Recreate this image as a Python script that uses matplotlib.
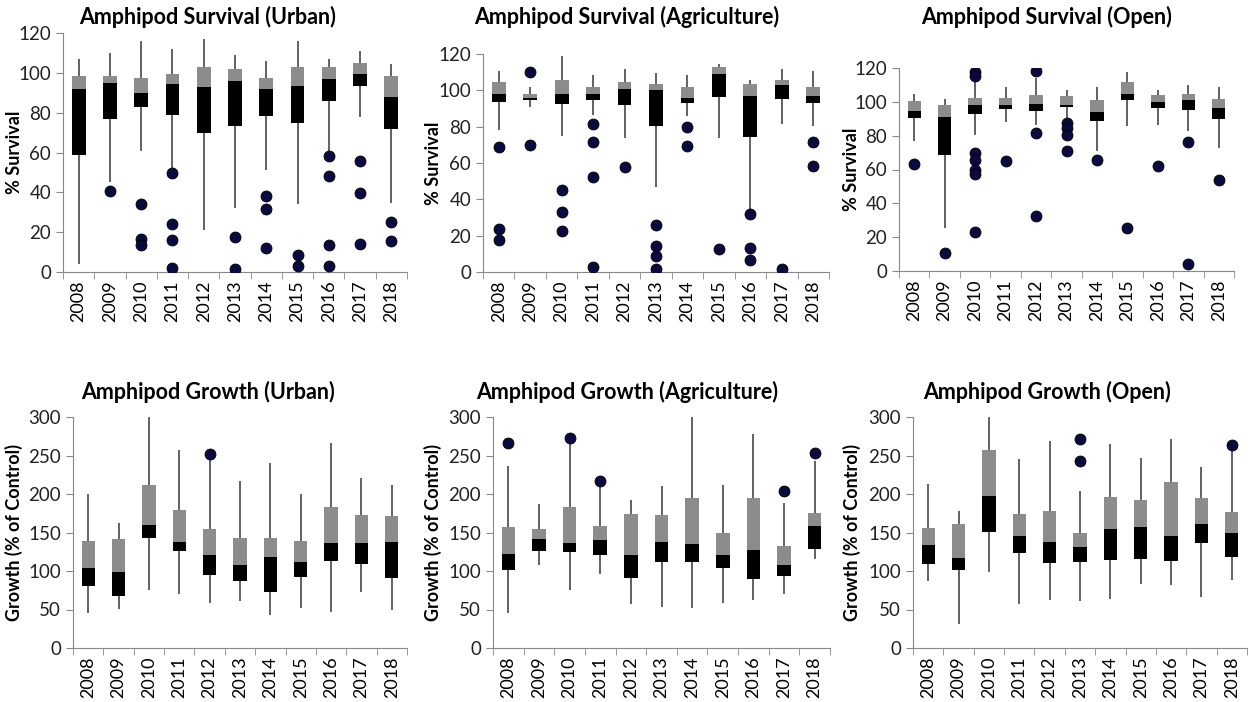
import matplotlib
matplotlib.use("Agg")
import matplotlib.pyplot as plt
import numpy as np

plt.rcParams['font.family'] = ['Lato', 'DejaVu Sans']

years = ['2008', '2009', '2010', '2011', '2012', '2013', '2014', '2015', '2016', '2017', '2018']

# each panel: whisker low, Q1, median, Q3, whisker high, outliers per year
surv_urban_lo = [4, 45, 61, 52, 21.3, 32, 51, 34, 60, 78, 34.4]
surv_urban_q1 = [58.6, 76.7, 82.6, 79, 70, 73.5, 78.5, 75, 86, 93.5, 72]
surv_urban_med = [92, 95, 90, 94.3, 93, 96, 92, 93.5, 97, 99.5, 87.8]
surv_urban_q3 = [98.5, 98.5, 97.5, 99.5, 103, 102, 97.3, 103, 103, 105, 98.5]
surv_urban_hi = [107, 110, 116, 112, 117, 109, 106, 116, 107, 111, 104.6]
surv_urban_out = [[], [40.8], [34, 16.8, 13.4], [49.7, 24, 16, 2], [], [17.5, 1.7],
                  [38, 31.4, 12], [8.4, 3], [58.4, 48.3, 13.8, 3], [55.5, 39.6, 14], [25, 15.4]]

surv_agri_lo = [78, 90.7, 75, 86.5, 74, 47, 85.6, 74, 31.7, 81.7, 80.6]
surv_agri_q1 = [93.5, 94.5, 92.4, 94.6, 91.8, 80.2, 93, 96.4, 74.5, 95.3, 93]
surv_agri_med = [98, 95.8, 98, 98, 100.7, 100, 95.7, 109, 96.8, 102.9, 96.8]
surv_agri_q3 = [104.7, 98, 105.8, 101.8, 104.7, 103.4, 101.8, 112.6, 103.4, 105.6, 101.8]
surv_agri_hi = [110.4, 101.8, 119, 108.6, 111.5, 109.5, 108.6, 114.7, 105.8, 111.5, 110.4]
surv_agri_out = [[68.7, 23.4, 17.5], [110.3, 70], [45.3, 32.8, 22.6], [81.7, 71.4, 52.3, 2.8],
                 [57.8], [25.8, 14.4, 8.7, 1.8], [80, 69.6], [12.9], [31.7, 13.4, 6.8],
                 [1.8], [71.4, 58.3]]

surv_open_lo = [76.8, 25.3, 80.5, 87.8, 86.4, 90.4, 71, 85.8, 86.4, 82.9, 72.6]
surv_open_q1 = [90.2, 68.5, 92.6, 95.7, 94.5, 97.1, 88.4, 100.8, 96.3, 95.3, 89.8]
surv_open_med = [94.5, 91, 98, 98, 98.7, 98.3, 94.1, 104.8, 100, 101.2, 96.1]
surv_open_q3 = [100.3, 98.3, 102, 102, 104.2, 103.2, 101.2, 111.7, 103.8, 104.4, 101.6]
surv_open_hi = [104.6, 101.6, 113, 108.7, 113.9, 107, 108.7, 117.4, 107.2, 109.9, 108.7]
surv_open_out = [[63], [10.9], [117.6, 115.5, 69.9, 65.7, 60, 57.6, 22.9], [65.3],
                 [118, 81.3, 32.8], [87.4, 84.5, 80.5, 71], [65.5], [25.3], [62.2],
                 [76.2, 3.9], [54]]

grow_urban_lo = [45.5, 50.6, 75, 69.7, 58.9, 60.6, 42.9, 52, 46.8, 72.3, 49.8]
grow_urban_q1 = [80, 68, 142.9, 125.5, 94.8, 87, 72.3, 92.2, 113.4, 108.7, 91]
grow_urban_med = [103.5, 98.3, 159.3, 138, 121.2, 107.4, 118.2, 111.3, 136.8, 136, 138]
grow_urban_q3 = [139.4, 142, 211.7, 179.2, 155, 143.3, 143.3, 139, 183, 172.3, 171]
grow_urban_hi = [200.4, 162, 300, 256.7, 245.5, 216.5, 240.7, 200.4, 266, 220.3, 212]
grow_urban_out = [[], [], [], [], [251.5], [], [], [], [], [], []]

grow_agri_lo = [45.5, 108.2, 75, 96.1, 57.6, 53.2, 52.4, 58.9, 61.9, 69.7, 116]
grow_agri_q1 = [101.7, 125.5, 124.2, 120.3, 91.3, 111.3, 112.1, 104.3, 89.6, 93.5, 129]
grow_agri_med = [122, 142, 136.8, 140.7, 120.3, 138, 134.6, 121.2, 127.7, 107.8, 158]
grow_agri_q3 = [156.7, 155, 183.5, 158.4, 174, 172.7, 195.2, 149.8, 195.2, 132.9, 175.3]
grow_agri_hi = [236.4, 187.4, 267.5, 211.3, 192.6, 210, 300, 212, 277.5, 188.7, 242.4]
grow_agri_out = [[266.7], [], [272.3], [216.5], [], [], [], [], [], [203.5], [253.7]]

grow_open_lo = [87, 30.7, 98.7, 57.6, 61.9, 60.6, 64.1, 83.5, 81.4, 65.8, 88.3]
grow_open_q1 = [109.5, 101.3, 150.2, 123, 110.8, 112.1, 114.7, 116, 113.4, 136, 118.6]
grow_open_med = [133.3, 116.9, 197, 145, 137.2, 131.6, 154.1, 157.1, 145, 160.6, 148.9]
grow_open_q3 = [156.3, 160.6, 256.7, 173.6, 177.5, 149.8, 196.1, 192.6, 216, 195.2, 176.2]
grow_open_hi = [213.4, 178, 300, 245.9, 268.4, 203.5, 264.5, 247.2, 271, 235, 256.7]
grow_open_out = [[], [], [], [], [], [271.9, 242.9], [], [], [], [], [263.2]]

fig = plt.figure(figsize=(12.49, 7.02), dpi=100)
W, H = 1249.0, 702.0


def axes_px(x0, x1, ytop, ybot):
    return fig.add_axes([x0 / W, 1 - ybot / H, (x1 - x0) / W, (ybot - ytop) / H])


def draw_panel(ax, lo, q1, med, q3, hi, out, ymax, ystep, ylabel, label_off):
    x = np.arange(len(years))
    ax.vlines(x, lo, hi, color='#555555', lw=1.3, zorder=1)
    ax.bar(x, np.array(med) - np.array(q1), bottom=q1, width=0.44, color='black', zorder=2)
    ax.bar(x, np.array(q3) - np.array(med), bottom=med, width=0.44, color='#8c8c8c', zorder=2)
    for i, pts in enumerate(out):
        if pts:
            ax.scatter([i] * len(pts), pts, s=62, color='#0a0a40', edgecolor='black',
                       lw=0.6, zorder=3)
    ax.set_xlim(-0.5, len(years) - 0.5)
    ax.set_ylim(0, ymax)
    ax.set_yticks(np.arange(0, ymax + 1, ystep))
    ax.set_xticks(x)
    ax.set_xticklabels(years, rotation=90, fontsize=13)
    ax.set_xticks(np.arange(-0.5, len(years)), minor=True)
    ax.tick_params(axis='x', which='major', length=0, pad=6)
    ax.tick_params(axis='x', which='minor', length=5, color='#888888')
    ax.tick_params(axis='y', labelsize=13.5, length=5, color='#888888', labelcolor='#222222')
    for s in ['top', 'right']:
        ax.spines[s].set_visible(False)
    for s in ['left', 'bottom']:
        ax.spines[s].set_color('#888888')
    ax.set_ylabel(ylabel, fontsize=13, fontweight='bold')
    width_px = ax.get_position().width * W
    ax.yaxis.set_label_coords(label_off / width_px, 0.5)


ax1 = axes_px(63, 407, 33, 272)
draw_panel(ax1, surv_urban_lo, surv_urban_q1, surv_urban_med, surv_urban_q3, surv_urban_hi,
           surv_urban_out, 120, 20, '% Survival', -40)
ax2 = axes_px(483, 829, 54, 272)
draw_panel(ax2, surv_agri_lo, surv_agri_q1, surv_agri_med, surv_agri_q3, surv_agri_hi,
           surv_agri_out, 120, 20, '% Survival', -41)
ax3 = axes_px(899, 1234, 68, 271)
draw_panel(ax3, surv_open_lo, surv_open_q1, surv_open_med, surv_open_q3, surv_open_hi,
           surv_open_out, 120, 20, '% Survival', -39)
ax4 = axes_px(73, 407, 417, 648)
draw_panel(ax4, grow_urban_lo, grow_urban_q1, grow_urban_med, grow_urban_q3, grow_urban_hi,
           grow_urban_out, 300, 50, 'Growth (% of Control)', -50)
ax5 = axes_px(493, 830, 417, 648)
draw_panel(ax5, grow_agri_lo, grow_agri_q1, grow_agri_med, grow_agri_q3, grow_agri_hi,
           grow_agri_out, 300, 50, 'Growth (% of Control)', -51)
ax6 = axes_px(913, 1247, 417, 648)
draw_panel(ax6, grow_open_lo, grow_open_q1, grow_open_med, grow_open_q3, grow_open_hi,
           grow_open_out, 300, 50, 'Growth (% of Control)', -52)

titles = [('Amphipod Survival (Urban)', 208, 17), ('Amphipod Survival (Agriculture)', 627, 17),
          ('Amphipod Survival (Open)', 1047, 17), ('Amphipod Growth (Urban)', 208, 392),
          ('Amphipod Growth (Agriculture)', 627, 392), ('Amphipod Growth (Open)', 1047, 392)]
for t, px, py in titles:
    fig.text(px / W, 1 - py / H, t, ha='center', va='center', fontsize=15.5, fontweight='bold')

fig.savefig('out.png', dpi=100)
